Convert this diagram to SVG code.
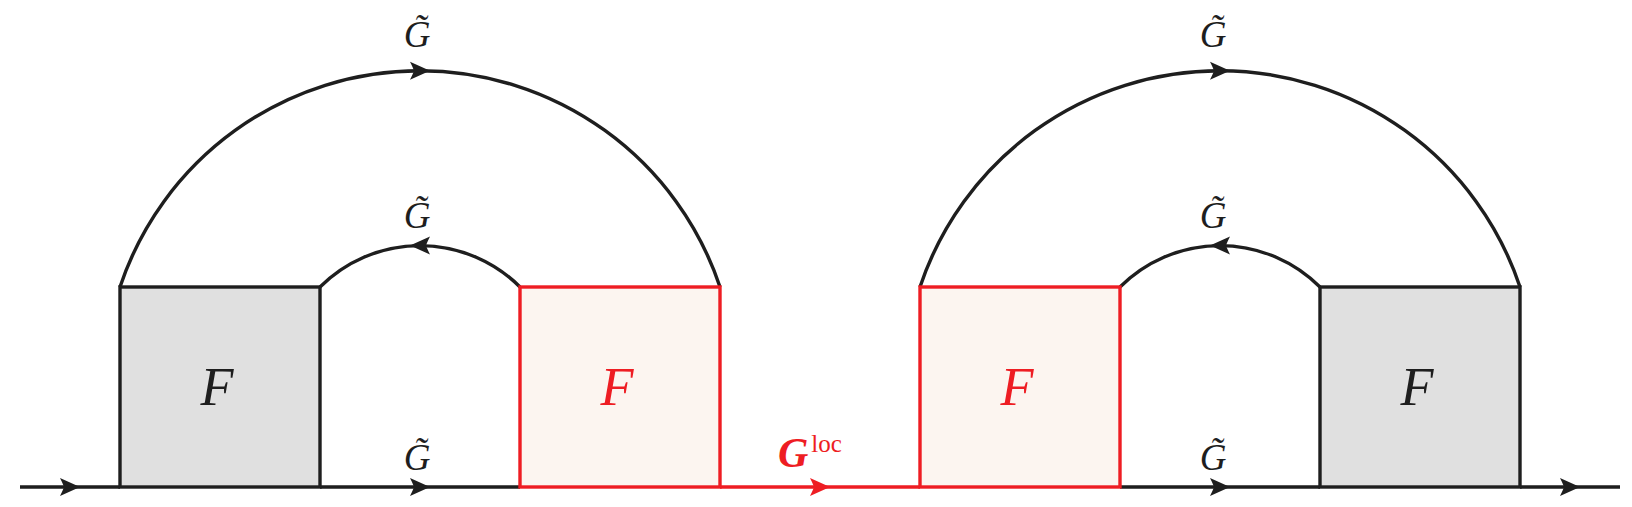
<svg xmlns="http://www.w3.org/2000/svg" width="1632" height="507" viewBox="0 0 1632 507">
<style>
.k{stroke:#1e1e1e;stroke-width:3.4;fill:none}
.r{stroke:#ee1d23;stroke-width:3.4;fill:none}
.gb{fill:#e0e0e0;stroke:#1e1e1e;stroke-width:3.4}
.rb{fill:#fcf5f0;stroke:#ee1d23;stroke-width:3.4}
.lab{font-family:"Liberation Serif",serif;font-style:italic;font-size:37px;fill:#1e1e1e;text-anchor:middle}
.f{font-family:"Liberation Serif",serif;font-style:italic;font-size:54px;text-anchor:middle}
</style>
<defs>
<path id="ah" d="M10,0 L-10,-9 Q-7,-3 -6,0 Q-7,3 -10,9 Z"/>
</defs>
<g id="connectors">
<path class="k" d="M20,487 H120 M320,487 H520 M1120,487 H1320 M1520,487 H1620"/>
<path class="r" d="M720,487 H920"/>
<path class="k" d="M120,287 A316.23,316.23 0 0 1 720,287"/>
<path class="k" d="M320,287 A141.42,141.42 0 0 1 520,287"/>
<path class="k" d="M920,287 A316.23,316.23 0 0 1 1520,287"/>
<path class="k" d="M1120,287 A141.42,141.42 0 0 1 1320,287"/>
<g fill="#1e1e1e">
<use href="#ah" transform="translate(70,487)"/>
<use href="#ah" transform="translate(420,487)"/>
<use href="#ah" transform="translate(1220,487)"/>
<use href="#ah" transform="translate(1570,487)"/>
<use href="#ah" transform="translate(420,70.8)"/>
<use href="#ah" transform="translate(1220,70.8)"/>
<use href="#ah" transform="translate(420,245.6) rotate(180)"/>
<use href="#ah" transform="translate(1220,245.6) rotate(180)"/>
</g>
<use href="#ah" fill="#ee1d23" transform="translate(820,487)"/>
</g>
<g id="box1"><rect class="gb" x="120" y="287" width="200" height="200"/><text class="f" x="217" y="405" fill="#1e1e1e">F</text></g>
<g id="box2"><rect class="rb" x="520" y="287" width="200" height="200"/><text class="f" x="617" y="405" fill="#ee1d23">F</text></g>
<g id="box3"><rect class="rb" x="920" y="287" width="200" height="200"/><text class="f" x="1017" y="405" fill="#ee1d23">F</text></g>
<g id="box4"><rect class="gb" x="1320" y="287" width="200" height="200"/><text class="f" x="1417" y="405" fill="#1e1e1e">F</text></g>
<g id="labels">
<text class="lab" x="417" y="47">G̃</text>
<text class="lab" x="417" y="228">G̃</text>
<text class="lab" x="417" y="470">G̃</text>
<text class="lab" x="1213" y="47">G̃</text>
<text class="lab" x="1213" y="228">G̃</text>
<text class="lab" x="1213" y="470">G̃</text>
<text font-family="Liberation Serif,serif" fill="#ee1d23" x="778" y="467"><tspan font-size="42" font-weight="bold" font-style="italic">G</tspan><tspan font-size="25" dy="-15" dx="3">loc</tspan></text>
</g>
</svg>
